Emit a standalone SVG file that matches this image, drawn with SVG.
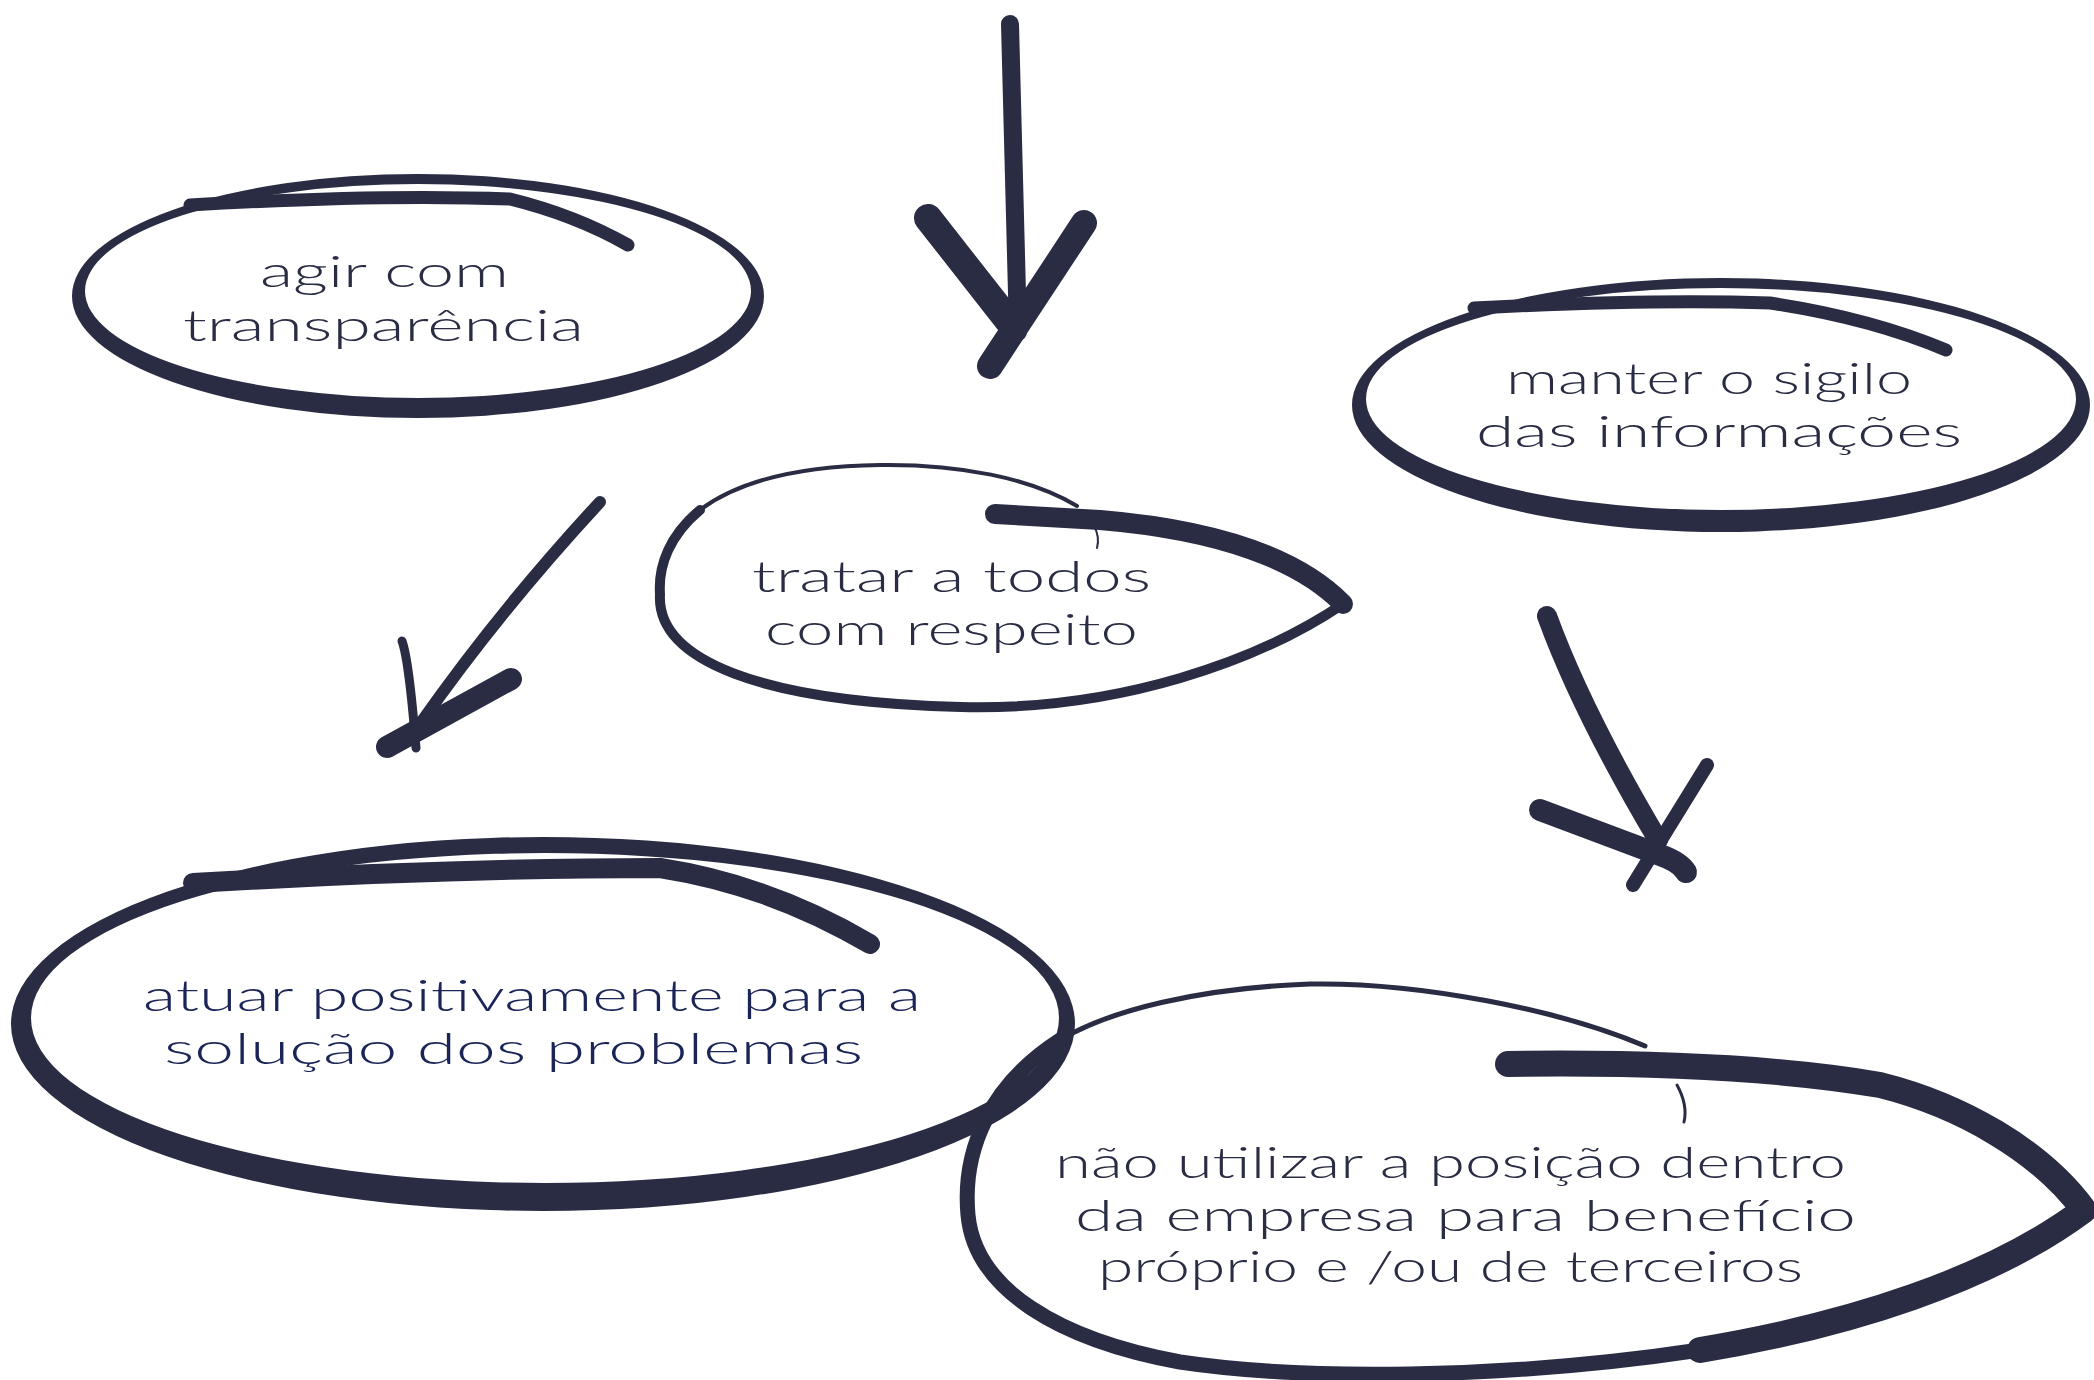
<svg xmlns="http://www.w3.org/2000/svg" width="2094" height="1380" viewBox="0 0 2094 1380">
<style>
.ring{fill:#292c43;fill-rule:evenodd;stroke:none}
.ln{fill:none;stroke:#292c43;stroke-linecap:round;stroke-linejoin:round}
.t{font-family:Lato,"Open Sans","Liberation Sans",sans-serif;font-weight:300;font-size:44px;fill:#292c43}
.tb{fill:#1b2457}
</style>
<rect width="2094" height="1380" fill="#ffffff"/>
<g id="connectors">
  <g id="arrow-top">
    <path class="ln" d="M1010 24 L1018 332" stroke-width="18"/>
    <path class="ln" d="M928 218 L1008 320" stroke-width="28"/>
    <path class="ln" d="M1084 223 L990 366" stroke-width="26"/>
  </g>
  <g id="arrow-left">
    <path class="ln" d="M600 502 Q500 610 420 724" stroke-width="12"/>
    <path class="ln" d="M402 641 Q409 660 416 748" stroke-width="9"/>
    <path class="ln" d="M511 679 L387 747" stroke-width="22"/>
  </g>
  <g id="arrow-right">
    <path class="ln" d="M1547 616 Q1582 712 1658 840" stroke-width="20"/>
    <path class="ln" d="M1540 810 L1660 855 Q1680 862 1686 872" stroke-width="22"/>
    <path class="ln" d="M1707 765 L1633 885" stroke-width="14"/>
  </g>
</g>
<g id="node-agir">
  <path class="ring" d="M72 296 A346 122 0 1 0 764 296 A346 122 0 1 0 72 296 Z M85 291 A333 107 0 1 0 751 291 A333 107 0 1 0 85 291 Z"/>
  <path class="ln" d="M190 205 Q380 194 510 199 Q575 215 628 245" stroke-width="13"/>
  <text class="t" x="260" y="287" textLength="249" lengthAdjust="spacingAndGlyphs">agir com</text>
  <text class="t" x="183" y="341" textLength="401" lengthAdjust="spacingAndGlyphs">transparência</text>
</g>
<g id="node-tratar">
  <path class="ln" d="M1077 506 C1030 478 960 464 880 465 C800 466 740 480 700 510" stroke-width="4"/>
  <path class="ln" d="M1094 526 Q1100 537 1097 548" stroke-width="2"/>
  <path class="ln" d="M700 510 C670 535 658 565 660 594 C656 660 760 702 961 707 C1120 711 1260 660 1343 604" stroke-width="10"/>
  <path class="ln" d="M1343 604 C1300 560 1220 530 1100 520 L995 514" stroke-width="20"/>
  <text class="t" x="752" y="592" textLength="399" lengthAdjust="spacingAndGlyphs">tratar a todos</text>
  <text class="t" x="765" y="645" textLength="373" lengthAdjust="spacingAndGlyphs">com respeito</text>
</g>
<g id="node-manter">
  <path class="ring" d="M1352 405 A369 127 0 1 0 2090 405 A369 127 0 1 0 1352 405 Z M1366 399 A355 111 0 1 0 2076 399 A355 111 0 1 0 1366 399 Z"/>
  <path class="ln" d="M1474 308 Q1650 299 1770 303 Q1870 318 1946 350" stroke-width="13"/>
  <text class="t" x="1506" y="394" textLength="406" lengthAdjust="spacingAndGlyphs">manter o sigilo</text>
  <text class="t" x="1476" y="447" textLength="486" lengthAdjust="spacingAndGlyphs">das informações</text>
</g>
<g id="node-atuar">
  <path class="ring" d="M11 1024 A532 187 0 1 0 1075 1024 A532 187 0 1 0 11 1024 Z M31 1018 A514 165 0 1 0 1059 1018 A514 165 0 1 0 31 1018 Z"/>
  <path class="ln" d="M193 883 Q450 868 660 868 Q770 885 870 944" stroke-width="20"/>
  <text class="t tb" x="143" y="1011" textLength="778" lengthAdjust="spacingAndGlyphs">atuar positivamente para a</text>
  <text class="t tb" x="164" y="1064" textLength="699" lengthAdjust="spacingAndGlyphs">solução dos problemas</text>
</g>
<g id="node-nao-utilizar">
  <path class="ln" d="M1645 1046 C1560 1010 1420 982 1310 984 C1200 988 1110 1010 1060 1040" stroke-width="5"/>
  <path class="ln" d="M1677 1085 Q1688 1105 1684 1122" stroke-width="3"/>
  <path class="ln" d="M1060 1040 C990 1085 962 1150 968 1215 C975 1290 1060 1340 1180 1362 C1300 1380 1500 1380 1700 1350" stroke-width="15"/>
  <path class="ln" d="M1700 1350 C1850 1325 1990 1280 2084 1210 C2040 1150 1960 1105 1880 1085 C1780 1068 1650 1062 1508 1064" stroke-width="26"/>
  <text class="t" x="1055" y="1178" textLength="791" lengthAdjust="spacingAndGlyphs">não utilizar a posição dentro</text>
  <text class="t" x="1075" y="1231" textLength="781" lengthAdjust="spacingAndGlyphs">da empresa para benefício</text>
  <text class="t" x="1098" y="1282" textLength="705" lengthAdjust="spacingAndGlyphs">próprio e /ou de terceiros</text>
</g>
</svg>
